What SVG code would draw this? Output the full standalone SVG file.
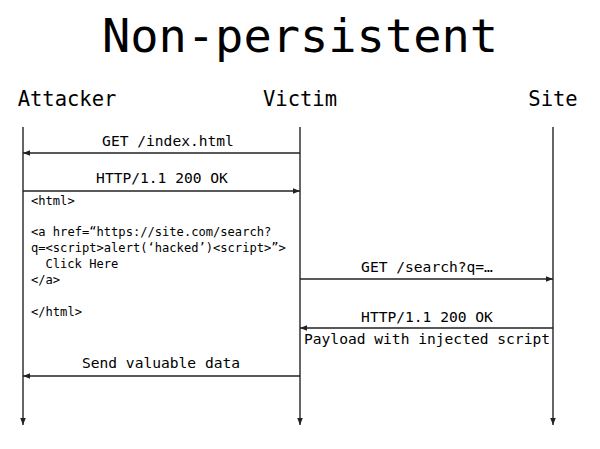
<svg xmlns="http://www.w3.org/2000/svg" width="600" height="449" viewBox="0 0 600 449">
<defs>
<style>
text{font-family:"DejaVu Sans Mono","Liberation Mono",monospace;fill:#000}
.title{font-size:47px;font-weight:300}
.actor{font-size:20.5px}
.msg{font-size:14.6px;text-anchor:middle}
.code{font-size:12.1px}
.life{stroke:#333;stroke-width:1.5;fill:none}
.arr{stroke:#222;stroke-width:1.3;fill:none}
</style>
<marker id="ah" viewBox="0 0 10 10" refX="10" refY="5" markerWidth="7" markerHeight="7" markerUnits="userSpaceOnUse" orient="auto">
<path d="M0,1 L10,5 L0,9 z" fill="#222"/>
</marker>
</defs>
<rect width="600" height="449" fill="#fff"/>
<text class="title" x="300" y="52" text-anchor="middle">Non-persistent</text>
<g id="attacker"><text class="actor" x="67" y="106" text-anchor="middle">Attacker</text></g>
<g id="victim"><text class="actor" x="300" y="106" text-anchor="middle">Victim</text></g>
<g id="site"><text class="actor" x="553" y="106" text-anchor="middle">Site</text></g>
<g id="connectors">
<line class="life" x1="23" y1="127" x2="23" y2="425" marker-end="url(#ah)"/>
<line class="life" x1="300" y1="127" x2="300" y2="425" marker-end="url(#ah)"/>
<line class="life" x1="553" y1="127" x2="553" y2="425" marker-end="url(#ah)"/>
<line class="arr" x1="300" y1="153" x2="23" y2="153" marker-end="url(#ah)"/>
<line class="arr" x1="23" y1="191" x2="300" y2="191" marker-end="url(#ah)"/>
<line class="arr" x1="300" y1="279" x2="553" y2="279" marker-end="url(#ah)"/>
<line class="arr" x1="553" y1="328" x2="300" y2="328" marker-end="url(#ah)"/>
<line class="arr" x1="300" y1="376" x2="23" y2="376" marker-end="url(#ah)"/>
</g>
<g id="labels">
<text class="msg" x="168" y="146">GET /index.html</text>
<text class="msg" x="162" y="183">HTTP/1.1 200 OK</text>
<text class="msg" x="427" y="272">GET /search?q=…</text>
<text class="msg" x="427" y="322">HTTP/1.1 200 OK</text>
<text class="msg" x="427" y="344">Payload with injected script</text>
<text class="msg" x="161" y="368">Send valuable data</text>
</g>
<g id="code">
<text class="code" x="31" y="205">&lt;html&gt;</text>
<text class="code" x="31" y="236">&lt;a href=“https://site.com/search?</text>
<text class="code" x="31" y="252">q=&lt;script&gt;alert(‘hacked’)&lt;script&gt;”&gt;</text>
<text class="code" x="45.5" y="268">Click Here</text>
<text class="code" x="31" y="284">&lt;/a&gt;</text>
<text class="code" x="31" y="316">&lt;/html&gt;</text>
</g>
</svg>
